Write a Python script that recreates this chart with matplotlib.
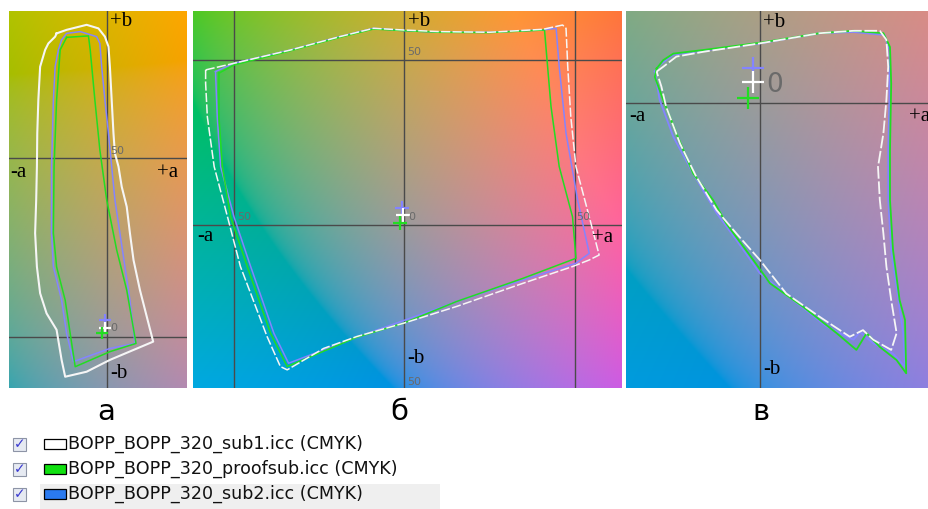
import numpy as np
import matplotlib
matplotlib.use('Agg')
from matplotlib import pyplot as plt
from matplotlib.patches import Rectangle

W, H = 929, 509

# ---- gamut outlines, (a*, b*) pairs ----
# panel a
a_white = [(-14.1, 84.8), (-11.3, 85.8), (-5.7, 87.2), (-2.4, 86.2), (-0.6, 83.9), (0.4, 81.1),
           (0.8, 75.5), (1.3, 66.2), (1.8, 56.9), (2.2, 51.3), (3.2, 47.6), (4.1, 42.0),
           (5.5, 36.4), (6.4, 29.0), (7.4, 21.5), (9.2, 13.1), (11.1, 5.7), (12.9, -1.3),
           (0.8, -6.4), (-5.7, -9.7), (-11.7, -11.1), (-12.7, -6.4), (-14.1, 2.0), (-16.9, 6.6),
           (-18.7, 12.2), (-19.6, 19.6), (-20.1, 29.0), (-19.8, 38.3), (-19.6, 47.6), (-19.5, 56.9),
           (-19.2, 66.2), (-18.7, 75.5), (-17.3, 80.2), (-16.4, 82.0), (-14.5, 83.9)]
a_blue = [(-12.7, 83.0), (-11.3, 84.8), (-7.5, 85.3), (-2.9, 83.9), (-2.0, 82.0), (-1.5, 75.5),
          (-0.6, 66.2), (0.4, 56.9), (1.3, 47.6), (2.2, 38.3), (3.6, 29.0), (5.0, 19.6),
          (6.4, 10.3), (7.8, -1.8), (0.8, -3.2), (-9.4, -6.9), (-11.3, 1.0), (-12.7, 10.3),
          (-15.0, 19.6), (-15.5, 29.0), (-15.5, 47.6), (-15.0, 66.2), (-14.5, 75.5), (-13.6, 80.2)]
a_green = [(-11.3, 83.7), (-5.2, 84.1), (-4.7, 80.2), (-3.4, 66.2), (-2.0, 52.2), (-0.1, 38.3),
           (2.7, 24.3), (5.5, 13.1), (8.1, -1.8), (0.8, -4.1), (-8.9, -8.3), (-10.3, 1.0),
           (-11.7, 10.3), (-14.1, 19.6), (-15.0, 29.0), (-14.8, 47.6), (-14.1, 66.2), (-13.1, 80.2)]

# panel b
b_white = [(-58.2, 47.0), (-49.9, 49.0), (-33.4, 53.0), (-18.8, 57.1), (-9.0, 59.6), (-0.3, 59.1),
           (10.4, 58.6), (25.0, 58.4), (40.6, 59.3), (46.4, 60.6), (47.4, 59.6), (47.9, 48.0),
           (48.8, 32.8), (50.3, 17.7), (54.2, 2.5), (57.1, -9.1), (54.2, -10.6), (49.3, -12.6),
           (34.7, -17.7), (15.3, -24.7), (-0.3, -29.8), (-13.9, -33.8), (-23.6, -37.4),
           (-34.3, -43.9), (-36.3, -42.9), (-40.2, -33.8), (-48.0, -12.6), (-51.8, 2.5),
           (-55.7, 17.7), (-57.7, 32.8), (-58.2, 42.9)]
b_blue = [(-55.3, 46.5), (-49.9, 49.0), (-33.4, 53.0), (-18.8, 57.1), (-9.0, 59.6), (-0.3, 58.9),
          (10.4, 58.4), (25.0, 58.4), (40.6, 59.1), (44.5, 59.6), (45.4, 48.0), (47.4, 27.8),
          (50.8, 7.6), (54.2, -8.6), (50.3, -11.6), (34.7, -16.7), (15.3, -23.2), (-0.3, -29.0),
          (-13.9, -34.0), (-33.9, -41.9), (-38.2, -32.8), (-45.0, -12.6), (-49.9, 2.5),
          (-53.8, 17.7), (-54.8, 32.8)]
b_green = [(-54.3, 46.0), (-49.9, 48.5), (-33.4, 52.8), (-18.8, 56.9), (-9.0, 59.4), (-0.3, 58.9),
           (10.4, 58.4), (25.0, 58.3), (41.1, 59.1), (42.0, 48.0), (43.0, 35.9), (45.4, 17.7),
           (49.3, 2.5), (50.3, -10.1), (34.7, -16.2), (15.3, -23.2), (-0.3, -29.8), (-13.9, -34.0),
           (-34.3, -42.9), (-39.2, -32.8), (-46.0, -12.6), (-50.9, 2.5), (-53.3, 17.7), (-54.3, 32.8)]

# panel c
c_white = [(-17.2, 5.3), (-16.1, 6.1), (-13.9, 7.8), (-9.4, 8.6), (0.0, 10.0), (10.0, 11.7),
           (15.6, 12.1), (20.0, 12.1), (21.1, 10.6), (21.4, 6.1), (21.1, 0.6), (20.6, -5.0),
           (19.7, -10.6), (20.0, -16.1), (20.6, -21.7), (21.1, -27.2), (21.9, -32.8), (22.8, -38.3),
           (21.9, -41.1), (18.9, -39.4), (17.2, -37.8), (15.0, -38.9), (10.0, -35.6), (4.4, -31.7),
           (0.0, -26.1), (-3.9, -21.7), (-7.2, -17.8), (-10.6, -12.2), (-13.3, -6.7), (-15.6, -0.6),
           (-16.4, 2.8)]
c_green = [(-17.2, 5.8), (-16.1, 7.2), (-14.4, 8.3), (-9.4, 8.9), (0.0, 10.1), (10.0, 11.7),
           (15.6, 12.1), (20.6, 11.7), (21.7, 9.4), (21.9, 3.3), (21.8, -2.2), (21.7, -7.8),
           (21.7, -16.1), (22.2, -24.4), (23.3, -32.8), (24.2, -36.1), (24.4, -45.0), (22.8, -42.8),
           (20.0, -40.6), (17.8, -38.3), (16.1, -41.1), (12.8, -38.3), (7.2, -33.9), (1.7, -30.0),
           (-1.1, -26.1), (-5.6, -20.0), (-7.8, -16.1), (-11.1, -11.7), (-13.9, -5.0), (-16.1, 0.6),
           (-17.5, 4.4)]
c_blue = [(-17.5, 5.3), (-16.7, 6.4), (-14.4, 8.1), (-9.4, 8.8), (0.0, 10.0), (10.0, 11.7),
          (15.6, 11.9), (20.8, 11.4), (21.6, 8.9), (21.6, 0.6), (21.4, -7.8), (21.4, -16.1),
          (21.9, -24.4), (23.1, -32.8), (23.9, -38.3), (24.2, -43.9), (22.2, -41.7), (18.9, -40.0),
          (16.7, -38.1), (15.6, -39.4), (11.1, -37.2), (5.6, -32.8), (0.0, -28.3), (-3.9, -22.8),
          (-7.2, -18.3), (-11.1, -11.7), (-14.4, -5.6), (-16.7, 0.6)]

# white points (blue, white, green) per panel
wp_a = [(-0.6, 4.7), (-0.6, 2.4), (-1.5, 1.0)]
wp_b = [(-0.6, 5.2), (-0.4, 3.0), (-1.2, 0.6)]
wp_c = [(-1.2, 5.9), (-1.2, 3.5), (-2.0, 0.9)]

legend_names = ['BOPP_BOPP_320_sub1.icc (CMYK)',
                'BOPP_BOPP_320_proofsub.icc (CMYK)',
                'BOPP_BOPP_320_sub2.icc (CMYK)']
legend_colors = ['white', '#10e010', '#2a7af0']

WHITE = '#f6f6f6'
GREEN = '#22dd22'
BLUE = '#8484ff'


def lab_to_rgb(L, a, b):
    fy = (L + 16) / 116.0
    fx = fy + a / 500.0
    fz = fy - b / 200.0

    def finv(t):
        return np.where(t > 6 / 29, t ** 3, 3 * (6 / 29) ** 2 * (t - 4 / 29))
    X = 0.95047 * finv(fx)
    Y = finv(fy)
    Z = 1.08883 * finv(fz)
    r = 3.2406 * X - 1.5372 * Y - 0.4986 * Z
    g = -0.9689 * X + 1.8758 * Y + 0.0415 * Z
    bb = 0.0557 * X - 0.2040 * Y + 1.0570 * Z
    rgb = np.stack([r, g, bb], axis=-1)
    rgb = np.clip(rgb, 0, 1)
    rgb = np.where(rgb > 0.0031308, 1.055 * rgb ** (1 / 2.4) - 0.055, 12.92 * rgb)
    return np.clip(rgb, 0, 1)


def panel(l, t, r, b, xlim, ylim):
    ax = fig.add_axes([l / W, 1 - b / H, (r - l) / W, (b - t) / H])
    aa, bb = np.meshgrid(np.linspace(xlim[0], xlim[1], 300), np.linspace(ylim[1], ylim[0], 300))
    # a bit lighter toward yellow, darker toward blue
    L = np.clip(64 + 0.12 * bb, 56, 76)
    img = lab_to_rgb(L, aa, bb)
    ax.imshow(img, extent=[xlim[0], xlim[1], ylim[0], ylim[1]], aspect='auto',
              interpolation='bilinear', zorder=0)
    ax.set_xlim(xlim)
    ax.set_ylim(ylim)
    ax.set_xticks([])
    ax.set_yticks([])
    for s in ax.spines.values():
        s.set_visible(False)
    return ax


def outline(ax, pts, color, lw=1.1, ls='-', z=3):
    p = np.array(pts + [pts[0]])
    ax.plot(p[:, 0], p[:, 1], color=color, lw=lw, ls=ls, zorder=z)


def crosses(ax, pts, ms):
    for (x, y), c in zip(pts, [BLUE, 'white', GREEN]):
        ax.plot(x, y, marker='+', ms=ms, mew=1.6, color=c, zorder=6)


fig = plt.figure(figsize=(W / 100, H / 100), dpi=100)
fig.patch.set_facecolor('white')

serif = 'Liberation Serif'
lab_kw = dict(family=serif, fontsize=15, color='black', zorder=7)
num_kw = dict(family='DejaVu Sans', fontsize=8, color='#6a6a6a', zorder=7)

# ---- panel a ----
ax1 = panel(9, 11, 187, 388, (-27.4, 22.35), (-14.25, 91.06))
ax1.axvline(0, color='#4a4a4a', lw=1, zorder=2)
for v in [50, 0]:
    ax1.axhline(v, color='#4a4a4a', lw=1, zorder=2)
outline(ax1, a_blue, BLUE)
outline(ax1, a_green, GREEN)
outline(ax1, a_white, WHITE, lw=1.5)
crosses(ax1, wp_a, 9)
ax1.text(0.8, 90.8, '+b', ha='left', va='top', **lab_kw)
ax1.text(-27, 48.6, '-a', ha='left', va='top', **lab_kw)
ax1.text(14, 48.6, '+a', ha='left', va='top', **lab_kw)
ax1.text(0.8, -7.6, '-b', ha='left', va='top', **lab_kw)
ax1.text(0.9, 50.6, '50', ha='left', va='bottom', **num_kw)
ax1.text(0.9, 1.0, '0', ha='left', va='bottom', **num_kw)

# ---- panel b ----
ax2 = panel(193, 11, 622, 388, (-61.9, 63.8), (-49.4, 64.85))
for v in [-50, 0, 50]:
    ax2.axvline(v, color='#4a4a4a', lw=1, zorder=2)
for v in [50, 0]:
    ax2.axhline(v, color='#4a4a4a', lw=1, zorder=2)
outline(ax2, b_blue, BLUE)
outline(ax2, b_green, GREEN)
outline(ax2, b_white, WHITE, lw=1.1, ls=(0, (6, 1.5)))
crosses(ax2, wp_b, 10)
ax2.text(1.0, 64.5, '+b', ha='left', va='top', **lab_kw)
ax2.text(-60.8, -0.5, '-a', ha='left', va='top', **lab_kw)
ax2.text(55.0, -0.8, '+a', ha='left', va='top', **lab_kw)
ax2.text(1.0, -37.5, '-b', ha='left', va='top', **lab_kw)
ax2.text(1.0, 50.8, '50', ha='left', va='bottom', **num_kw)
ax2.text(-49.0, 0.8, '50', ha='left', va='bottom', **num_kw)
ax2.text(1.2, 0.8, '0', ha='left', va='bottom', **num_kw)
ax2.text(50.5, 0.8, '50', ha='left', va='bottom', **num_kw)
ax2.text(1.0, -49.0, '50', ha='left', va='bottom', **num_kw)

# ---- panel c ----
ax3 = panel(626, 11, 929, 388, (-22.3, 28.2), (-47.45, 15.4))
ax3.axvline(0, color='#4a4a4a', lw=1, zorder=2)
ax3.axhline(0, color='#4a4a4a', lw=1, zorder=2)
outline(ax3, c_blue, BLUE, lw=1.3)
outline(ax3, c_green, GREEN, lw=1.3)
outline(ax3, c_white, WHITE, lw=1.3, ls=(0, (7, 1.5)))
crosses(ax3, wp_c, 16)
ax3.text(0.5, 15.0, '+b', ha='left', va='top', **lab_kw)
ax3.text(-21.7, -0.6, '-a', ha='left', va='top', **lab_kw)
ax3.text(24.8, -0.6, '+a', ha='left', va='top', **lab_kw)
ax3.text(0.5, -42.8, '-b', ha='left', va='top', **lab_kw)
ax3.text(1.0, 0.9, '0', ha='left', va='bottom', family='DejaVu Sans', fontsize=19,
         color='#6a6a6a', zorder=7)

# ---- panel letters ----
for x, s in [(106, 'а'), (399, 'б'), (761, 'в')]:
    fig.text(x / W, 1 - 412 / H, s, ha='center', va='center', fontsize=21,
             family='DejaVu Sans', color='black')

# ---- legend ----
fig.patches.append(Rectangle((40 / W, 0), 400 / W, 25 / H, transform=fig.transFigure,
                             facecolor='#efefef', edgecolor='none', zorder=0))
for i, (name, col) in enumerate(zip(legend_names, legend_colors)):
    yc = 444 + 25 * i
    fig.patches.append(Rectangle((13 / W, 1 - (yc + 7) / H), 13 / W, 13 / H,
                                 transform=fig.transFigure, facecolor='#e6eaf2',
                                 edgecolor='#8d94a6', lw=0.8))
    fig.text(19.5 / W, 1 - yc / H, '✓', ha='center', va='center', fontsize=10,
             color='#3a3ad0', family='DejaVu Sans', weight='bold')
    fig.patches.append(Rectangle((44 / W, 1 - (yc + 5) / H), 22 / W, 10 / H,
                                 transform=fig.transFigure, facecolor=col,
                                 edgecolor='black', lw=0.9))
    fig.text(68 / W, 1 - yc / H, name, ha='left', va='center', fontsize=12.6,
             family='DejaVu Sans', color='#111111')

fig.savefig('out.png', dpi=100)
